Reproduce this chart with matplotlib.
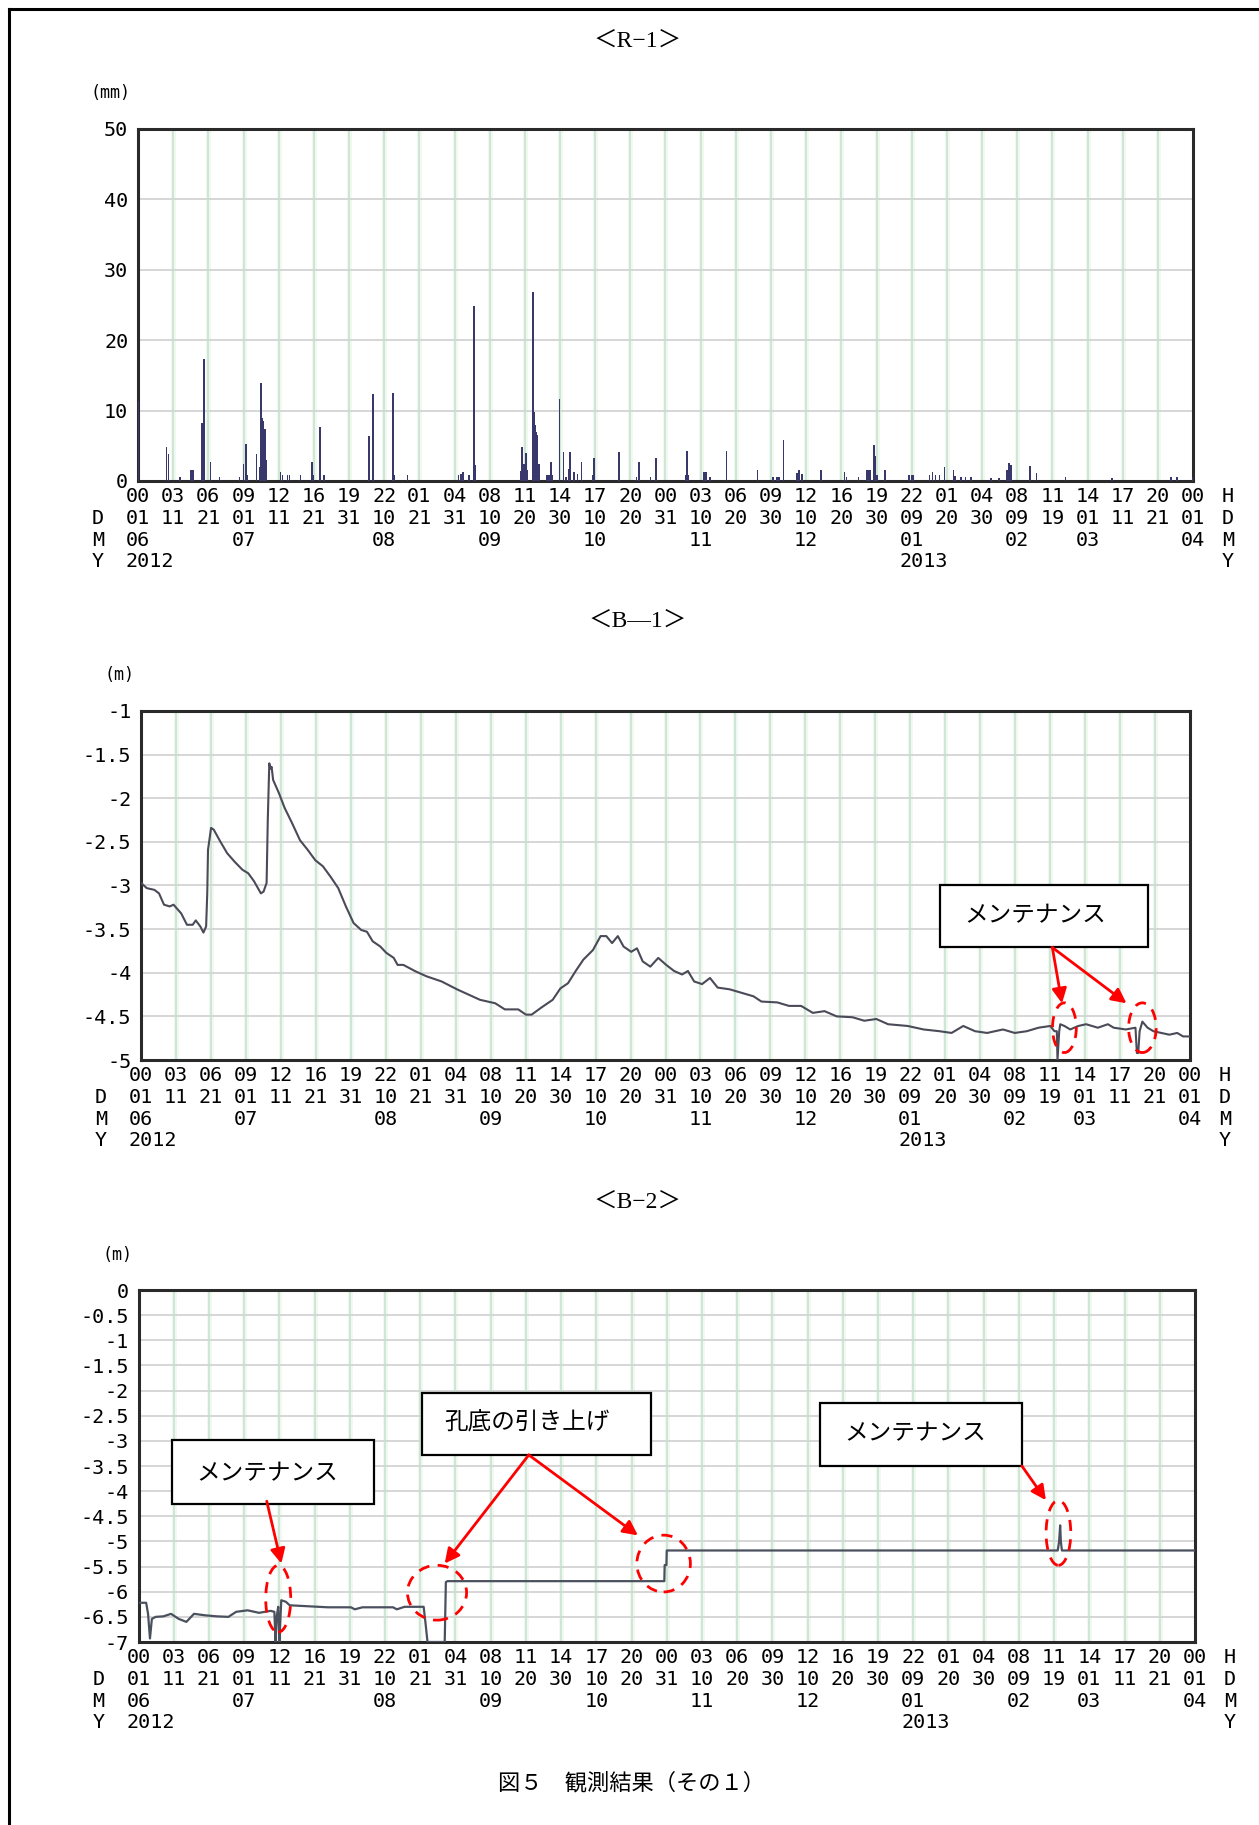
import matplotlib
matplotlib.use("Agg")
import matplotlib.pyplot as plt
import numpy as np
from matplotlib.patches import Rectangle, Ellipse
from matplotlib.lines import Line2D

# ---------------- data ----------------
TOTAL_DAYS = 304.0  # 2012-06-01 00:00 -> 2013-04-01 00:00
N_TICKS = 31
hour_labels = ['00','03','06','09','12','16','19','22','01','04','08','11','14','17','20',
               '00','03','06','09','12','16','19','22','01','04','08','11','14','17','20','00']
day_labels = ['01','11','21','01','11','21','31','10','21','31','10','20','30','10','20',
              '31','10','20','30','10','20','30','09','20','30','09','19','01','11','21','01']
month_labels = {0: '06', 3: '07', 7: '08', 10: '09', 13: '10', 16: '11', 19: '12',
                22: '01', 25: '02', 27: '03', 30: '04'}
year_labels = {0: '2012', 22: '2013'}

# R-1 rainfall (day offset, mm)
rain_day = [0.0, 8.26, 8.81, 12.1, 15.2, 15.6, 16.0, 18.4, 19.05, 20.9, 23.5, 29.2, 30.4, 31.1,
            31.6, 34.1, 35.2, 35.5, 35.8, 36.0, 36.2, 36.6, 36.9, 41.1, 41.6, 43.1, 43.7, 46.8,
            50.1, 50.6, 52.5, 53.6, 66.5, 67.7, 73.5, 73.9, 77.6, 92.3, 93.1, 93.6, 95.4, 96.8,
            97.3, 110.2, 110.7, 111.0, 111.3, 111.8, 112.2, 113.8, 114.2, 114.4, 114.7, 115.1,
            115.5, 117.9, 118.4, 119.0, 119.5, 121.4, 122.6, 123.4, 124.2, 124.5, 125.6, 126.6,
            127.8, 131.1, 131.4, 138.6, 143.6, 144.4, 147.7, 149.3, 157.7, 158.2, 158.6, 163.1,
            163.6, 164.8, 169.6, 178.5, 183.0, 184.2, 184.7, 186.0, 189.9, 190.5, 191.3, 196.8,
            203.6, 204.1, 207.6, 209.9, 210.4, 211.0, 212.0, 212.5, 212.9, 215.2, 222.2, 223.0,
            223.5, 228.1, 228.9, 229.8, 231.0, 232.4, 235.0, 235.5, 237.2, 238.4, 240.1, 245.8,
            248.1, 250.4, 250.9, 251.5, 257.0, 258.9, 267.2, 280.6, 297.7, 299.4, 303.8]
rain_mm = [11.4, 4.8, 3.8, 0.5, 1.6, 1.6, 1.6, 8.2, 17.3, 2.7, 0.6, 0.6, 2.4, 5.2,
           0.8, 3.8, 2.0, 13.9, 9.0, 8.5, 8.0, 7.4, 3.0, 1.3, 0.9, 0.8, 0.8, 0.8,
           2.7, 0.8, 7.6, 0.8, 6.4, 12.3, 12.5, 0.8, 0.8, 0.8, 1.0, 1.3, 0.8, 24.8,
           2.3, 1.4, 4.8, 2.0, 2.4, 4.0, 1.5, 26.8, 9.8, 8.0, 7.0, 6.5,
           2.4, 0.8, 0.8, 2.7, 0.8, 11.7, 4.1, 0.6, 1.7, 4.1, 1.3, 1.0,
           2.7, 0.8, 3.3, 4.1, 0.6, 2.7, 0.6, 3.3, 0.8, 4.2, 0.8, 1.3,
           1.3, 0.6, 4.3, 1.6, 0.6, 0.6, 0.6, 5.8, 1.2, 1.6, 1.0, 1.5,
           1.3, 0.6, 0.5, 1.5, 1.5, 1.5, 5.1, 3.5, 0.8, 1.5, 0.8, 0.8,
           0.8, 0.8, 1.3, 0.8, 0.8, 2.0, 1.5, 0.7, 0.5, 0.5, 0.5, 0.4,
           0.4, 1.5, 2.5, 2.3, 2.2, 1.2, 0.5, 0.4, 0.6, 0.6, 0.6]

# B-1 groundwater level (day offset, m)
b1_day = [0.0, 1.66, 3.88, 5.22, 6.66, 8.32, 9.43, 11.65, 13.32, 14.98, 15.87, 17.20, 18.09,
          18.87, 19.20, 19.42, 20.31, 21.09, 22.75, 24.97, 27.19, 29.41, 31.08, 32.74, 34.74,
          35.52, 36.40, 36.74, 37.18, 37.51, 37.85, 38.29, 39.96, 41.62, 43.84, 46.06, 48.28,
          50.50, 52.72, 54.94, 57.16, 59.38, 61.60, 63.82, 65.48, 67.15, 69.37, 71.03, 73.25,
          74.36, 76.03, 79.36, 82.69, 87.13, 91.57, 96.01, 98.23, 102.67, 105.44, 109.33,
          111.55, 113.21, 115.98, 119.31, 121.53, 123.75, 125.97, 128.19, 130.97, 133.19,
          134.85, 136.52, 138.18, 139.85, 142.07, 143.73, 145.40, 147.6, 149.9, 152.2, 154.5,
          156.8, 158.5, 160.3, 162.6, 164.9, 167.1, 170.6, 174.0, 177.5, 179.8, 184.4, 187.8,
          191.3, 194.7, 198.1, 201.6, 206.2, 209.6, 213.1, 216.5, 222.2, 226.8, 231.4, 234.9,
          238.3, 241.7, 245.2, 249.8, 253.2, 256.7, 260.1, 263.5, 264.7, 265.4, 265.6, 266.1,
          266.4, 267.6, 269.3, 271.6, 273.9, 277.3, 280.2, 281.9, 285.4, 288.2, 288.6, 289.0,
          289.4, 290.2, 291.7, 293.4, 295.7, 298.0, 300.3, 302.0, 304.0]
b1_val = [-2.97, -3.03, -3.05, -3.09, -3.22, -3.24, -3.22, -3.32, -3.45, -3.45, -3.40, -3.47,
          -3.54, -3.47, -3.09, -2.59, -2.34, -2.36, -2.48, -2.63, -2.73, -2.82, -2.86, -2.95,
          -3.09, -3.07, -2.97, -2.25, -1.60, -1.66, -1.64, -1.79, -1.94, -2.11, -2.29, -2.48,
          -2.59, -2.71, -2.78, -2.90, -3.03, -3.24, -3.43, -3.51, -3.53, -3.64, -3.70, -3.77,
          -3.83, -3.91, -3.91, -3.98, -4.04, -4.10, -4.19, -4.27, -4.31, -4.35, -4.42, -4.42,
          -4.48, -4.48, -4.40, -4.31, -4.18, -4.12, -3.98, -3.85, -3.74, -3.58, -3.58, -3.66,
          -3.58, -3.70, -3.76, -3.72, -3.87, -3.93, -3.83, -3.91, -3.98, -4.02, -3.98, -4.10,
          -4.13, -4.06, -4.17, -4.19, -4.23, -4.27, -4.33, -4.34, -4.38, -4.38, -4.46, -4.44,
          -4.50, -4.51, -4.55, -4.53, -4.59, -4.61, -4.65, -4.67, -4.69, -4.61, -4.67, -4.69,
          -4.65, -4.69, -4.67, -4.63, -4.61, -4.67, -4.67, -5.00, -4.67, -4.59, -4.61, -4.65,
          -4.61, -4.59, -4.63, -4.59, -4.63, -4.65, -4.63, -4.92, -4.92, -4.67, -4.56, -4.63,
          -4.67, -4.69, -4.71, -4.69, -4.73, -4.73]

# B-2 groundwater level (day offset, m)
b2_day = [0.0, 2.20, 2.75, 3.30, 3.85, 4.96, 7.16, 9.36, 11.56, 13.77, 15.97, 19.27, 22.58,
          25.88, 28.09, 31.39, 34.69, 38.00, 39.10, 39.43, 39.76, 40.20, 40.53, 40.86, 41.08,
          42.40, 43.51, 54.52, 61.13, 62.23, 64.43, 73.24, 74.34, 76.55, 82.05, 82.61, 83.16,
          88.11, 88.44, 88.88, 151.3, 151.4, 151.9, 152.0, 264.5, 264.9, 265.2, 265.4, 265.7,
          304.0]
b2_val = [-6.22, -6.22, -6.44, -6.93, -6.54, -6.50, -6.49, -6.44, -6.54, -6.60, -6.44, -6.47,
          -6.49, -6.50, -6.40, -6.37, -6.42, -6.38, -6.40, -7.00, -6.50, -6.30, -7.00, -6.50,
          -6.17, -6.20, -6.27, -6.31, -6.31, -6.35, -6.31, -6.31, -6.35, -6.30, -6.30, -6.64,
          -7.00, -7.00, -5.81, -5.79, -5.79, -5.47, -5.47, -5.18, -5.18, -5.00, -4.68, -5.00,
          -5.18, -5.18]

# ---------------- styling helpers ----------------
W, H = 1259, 1825
fig = plt.figure(figsize=(W / 100, H / 100), dpi=100)
MONO = 'DejaVu Sans Mono'
JP = ['Noto Sans CJK JP', 'DejaVu Sans']
TITLE_FAM = ['Liberation Serif', 'Noto Sans CJK JP']
tick_pos = np.arange(N_TICKS) * TOTAL_DAYS / (N_TICKS - 1)
PX = 0.72  # points per pixel at 100 dpi
FS = 14.5


def make_axes(left, right, top, bottom):
    return fig.add_axes([left / W, 1 - bottom / H, (right - left) / W, (bottom - top) / H])


def style_axes(ax, ylim, yticks, ylabels, unit, unit_xy, title, title_y):
    ax.set_xlim(0, TOTAL_DAYS)
    ax.set_ylim(*ylim)
    ax.set_xticks(tick_pos)
    ax.set_xticklabels([])
    ax.set_yticks(yticks)
    ax.set_yticklabels(ylabels, family=MONO, fontsize=FS)
    ax.tick_params(length=0, pad=7)
    for x in tick_pos[1:-1]:
        ax.axvline(x, color='#f0f8f1', lw=3.5, zorder=0)
        ax.axvline(x, color='#c4e3cd', lw=1.1, zorder=0.5)
    for y in yticks[1:-1]:
        ax.axhline(y, color='#d0d0d0', lw=1.2, zorder=0.4)
    for s in ax.spines.values():
        s.set_color('#2a2a2a')
        s.set_linewidth(2.2)
    # 4-row time labels
    char_w = FS * 0.602
    offs = [11.5, 27.0, 42.5, 58.0]
    for i, x in enumerate(tick_pos):
        rows = [hour_labels[i], day_labels[i], month_labels.get(i, ''), year_labels.get(i, '')]
        for r, txt in enumerate(rows):
            if txt:
                ax.annotate(txt, xy=(x, 0), xycoords=('data', 'axes fraction'),
                            xytext=(-char_w, -offs[r]), textcoords='offset points',
                            ha='left', va='center', family=MONO, fontsize=FS, annotation_clip=False)
    for r, txt in enumerate(['', 'D', 'M', 'Y']):
        if txt:
            ax.annotate(txt, xy=(0, 0), xycoords='axes fraction', xytext=(-40 * PX, -offs[r]),
                        textcoords='offset points', ha='center', va='center', family=MONO, fontsize=FS)
    for r, txt in enumerate(['H', 'D', 'M', 'Y']):
        ax.annotate(txt, xy=(1, 0), xycoords='axes fraction', xytext=(35 * PX, -offs[r]),
                    textcoords='offset points', ha='center', va='center', family=MONO, fontsize=FS)
    fig.text(unit_xy[0] / W, 1 - unit_xy[1] / H, unit, family=MONO, fontsize=12,
             ha='center', va='center')
    fig.text(638 / W, 1 - title_y / H, title, family=TITLE_FAM, fontsize=17,
             ha='center', va='center')


def note_box(ax, x0, x1, y0, y1, text, tx, ty):
    ax.add_patch(Rectangle((x0, y1), x1 - x0, y0 - y1, facecolor='white', edgecolor='black',
                           lw=1.6, zorder=10, clip_on=False))
    ax.text(tx, ty, text, family=JP, fontsize=17, ha='left', va='center', zorder=11)


def arrow(ax, start, tip):
    ax.annotate('', xy=tip, xytext=start,
                arrowprops=dict(arrowstyle='-|>', color='#ff0000', lw=2.0, mutation_scale=22,
                                shrinkA=0, shrinkB=0), zorder=12, annotation_clip=False)


def ring(ax, cx, cy, w, h):
    ax.add_patch(Ellipse((cx, cy), w, h, fill=False, edgecolor='#ff0000', lw=2.0,
                         linestyle=(0, (4, 3)), zorder=12, clip_on=False))


# ---------------- R-1 ----------------
ax1 = make_axes(138, 1193, 129, 481)
ax1.bar(rain_day, rain_mm, width=0.45, color='#38386c', zorder=3, align='center')
style_axes(ax1, (0, 50), [0, 10, 20, 30, 40, 50], ['0', '10', '20', '30', '40', '50'],
           '(mm)', (110, 93), '＜R−1＞', 41)

# ---------------- B-1 ----------------
ax2 = make_axes(141, 1190, 711, 1060)
ax2.plot(b1_day, b1_val, color='#4a4a58', lw=1.5, zorder=3)
b1_ticks = [-5, -4.5, -4, -3.5, -3, -2.5, -2, -1.5, -1]
style_axes(ax2, (-5, -1), b1_ticks, ['-5', '-4.5', '-4', '-3.5', '-3', '-2.5', '-2', '-1.5', '-1'],
           '(m)', (120, 675), '＜B—1＞', 621)
note_box(ax2, 231.6, 291.7, -2.99, -3.71, 'メンテナンス', 238.5, -3.35)
arrow(ax2, (264.1, -3.71), (266.9, -4.35))
arrow(ax2, (264.1, -3.71), (285.6, -4.35))
ring(ax2, 267.6, -4.63, 6.9, 0.57)
ring(ax2, 290.2, -4.63, 8.0, 0.57)

# ---------------- B-2 ----------------
ax3 = make_axes(138.5, 1195, 1290, 1642)
ax3.plot(b2_day, b2_val, color='#4a505e', lw=1.6, zorder=3)
b2_ticks = list(np.arange(-7, 0.01, 0.5))
b2_labels = ['-7', '-6.5', '-6', '-5.5', '-5', '-4.5', '-4', '-3.5', '-3', '-2.5', '-2',
             '-1.5', '-1', '-0.5', '0']
style_axes(ax3, (-7, 0), b2_ticks, b2_labels, '(m)', (118, 1255), '＜B−2＞', 1202)
note_box(ax3, 9.6, 67.7, -2.99, -4.26, 'メンテナンス', 16.5, -3.65)
arrow(ax3, (36.9, -4.20), (41.1, -5.44))
ring(ax3, 40.2, -6.14, 7.2, 1.33)
note_box(ax3, 81.7, 147.6, -2.04, -3.28, '孔底の引き上げ', 88.1, -2.65)
arrow(ax3, (112.3, -3.28), (88.1, -5.44))
arrow(ax3, (112.3, -3.28), (143.7, -4.88))
ring(ax3, 85.9, -6.02, 17.0, 1.09)
ring(ax3, 151.1, -5.44, 15.4, 1.13)
note_box(ax3, 196.0, 254.2, -2.24, -3.50, 'メンテナンス', 203.1, -2.85)
arrow(ax3, (254.2, -3.50), (261.1, -4.18))
ring(ax3, 264.7, -4.83, 7.1, 1.29)

# ---------------- caption & frame ----------------
fig.text(632 / W, 1 - 1783 / H, '図５　観測結果（その１）', family=JP, fontsize=16,
         ha='center', va='center')
fig.add_artist(Line2D([8.5 / W, 8.5 / W], [0, 1 - 9 / H], color='black', lw=2.2,
                      transform=fig.transFigure))
fig.add_artist(Line2D([8.5 / W, 1], [1 - 9 / H, 1 - 9 / H], color='black', lw=2.2,
                      transform=fig.transFigure))

fig.savefig('out.png', dpi=100, facecolor='white')
